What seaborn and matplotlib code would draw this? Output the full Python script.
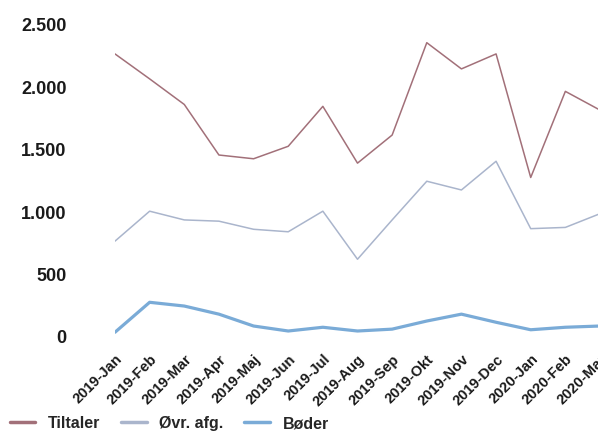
import pandas as pd
import seaborn as sns
from matplotlib import pyplot as plt
from matplotlib.ticker import FuncFormatter

# månedlige afgørelser
months = ['2019-Jan', '2019-Feb', '2019-Mar', '2019-Apr', '2019-Maj', '2019-Jun',
          '2019-Jul', '2019-Aug', '2019-Sep', '2019-Okt', '2019-Nov', '2019-Dec',
          '2020-Jan', '2020-Feb', '2020-Mar']
tiltaler = [2260, 2060, 1855, 1450, 1420, 1520, 1840, 1385, 1610, 2350, 2140, 2260, 1270, 1960, 1810]
ovr_afg = [760, 1000, 930, 920, 855, 835, 1000, 615, 930, 1240, 1170, 1400, 860, 870, 980]
boeder = [30, 270, 240, 175, 80, 40, 70, 40, 55, 120, 175, 110, 50, 70, 80]
series_names = ['Tiltaler', 'Øvr. afg.', 'Bøder']

df = pd.DataFrame({
    'Måned': months * 3,
    'Antal': tiltaler + ovr_afg + boeder,
    'Type': [n for n in series_names for _ in months],
})

sns.set_style('white')
plt.rcParams['font.family'] = ['Liberation Sans', 'DejaVu Sans']

fig = plt.figure(figsize=(5.98, 4.35), dpi=100)
ax = fig.add_axes([115 / 598, 0.1966, 485 / 598, 0.7747])

palette = {'Tiltaler': '#a27079', 'Øvr. afg.': '#aab5cc', 'Bøder': '#7aabd7'}
sns.lineplot(data=df, x='Måned', y='Antal', hue='Type', palette=palette,
             sort=False, ax=ax, legend=False)
widths = [1.1, 1.1, 2.3]
for line, w in zip(ax.get_lines(), widths):
    line.set_linewidth(w)
    line.set_solid_capstyle('round')

ax.set_xlim(0, len(months) - 1)
ax.set_ylim(-100, 2600)
ax.set_yticks([0, 500, 1000, 1500, 2000, 2500])
ax.yaxis.set_major_formatter(FuncFormatter(lambda v, p: f'{int(v):,}'.replace(',', '.')))
ax.set_xlabel('')
ax.set_ylabel('')
sns.despine(ax=ax, left=True, bottom=True)
ax.tick_params(axis='both', length=0)
ax.tick_params(axis='y', pad=35, labelsize=13, labelcolor='#1a1a1a')
ax.tick_params(axis='x', pad=2, labelsize=10.5, labelcolor='#1a1a1a')
for t in ax.get_yticklabels():
    t.set_fontweight('bold')
for t in ax.get_xticklabels():
    t.set_fontweight('bold')
    t.set_rotation(45)
    t.set_ha('right')
    t.set_rotation_mode('anchor')

handles = [plt.Line2D([], [], color=palette[n], lw=2.5) for n in series_names]
fig.legend(handles, series_names, loc='lower left', bbox_to_anchor=(-0.008, -0.025),
           ncol=3, frameon=False, handlelength=1.6, handletextpad=0.8,
           columnspacing=1.3, prop={'weight': 'bold', 'size': 11.5})

fig.savefig('out.png', dpi=100)
